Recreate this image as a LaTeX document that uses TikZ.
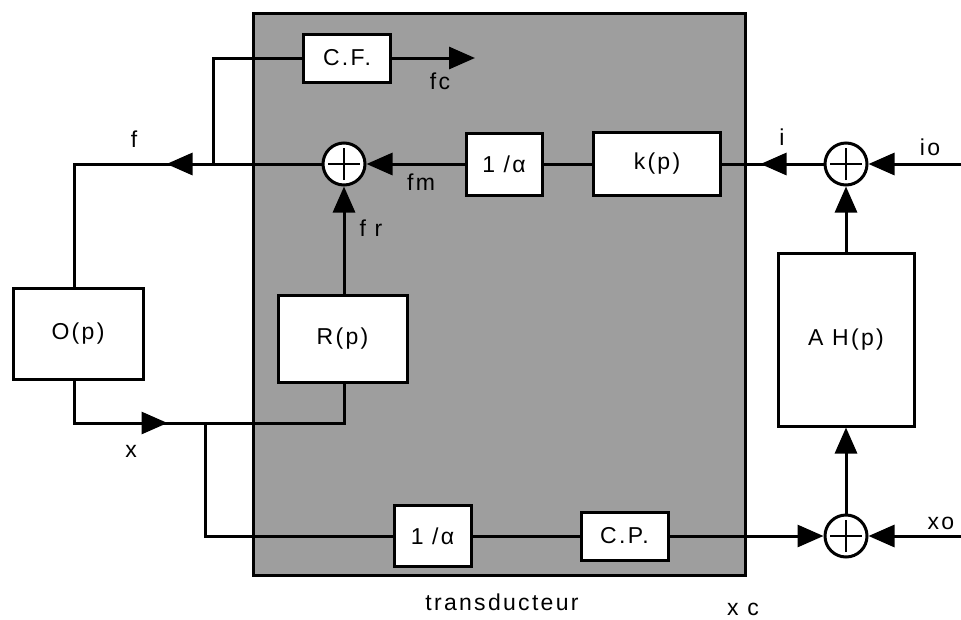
\documentclass[tikz,border=0pt]{standalone}
\usepackage{fontspec}
\setmainfont{Liberation Sans}[LetterSpace=10]
\usetikzlibrary{arrows.meta,decorations.markings}
\begin{document}
\begin{tikzpicture}[x=1pt,y=-1pt,line width=3pt,
  font=\fontsize{23}{27}\selectfont,
  blk/.style={draw,fill=white,inner sep=0pt},
  sumnode/.style={circle,draw,fill=white,minimum size=42pt,inner sep=0pt,
    path picture={
      \draw[line width=2.8pt] ([xshift=-16pt]path picture bounding box.center) -- ([xshift=16pt]path picture bounding box.center);
      \draw[line width=2.8pt] ([yshift=-16pt]path picture bounding box.center) -- ([yshift=16pt]path picture bounding box.center);}},
  tip/.style={-{Triangle[length=26pt,width=22pt]}},
  midtip/.style={postaction={decorate},decoration={markings,
    mark=at position #1 with {\arrow{Triangle[length=26pt,width=22pt]}}}},
  lbl/.style={inner sep=0pt}]
\useasboundingbox (0,0) rectangle (961,619);
% transducer housing
\node[draw,fill=black!38,minimum width=492pt,minimum height=562pt,inner sep=0pt] (T) at (499,294) {};
% blocks
\node[blk,minimum width=87pt,minimum height=48pt] (CF) at (347,58) {C.F.};
\node[sumnode] (s1) at (344,164) {};
\node[blk,minimum width=76pt,minimum height=62pt] (a1) at (504,164) {1 /α};
\node[blk,minimum width=127pt,minimum height=63pt] (k) at (657,164) {k(p)};
\node[sumnode] (s2) at (846,164) {};
\node[blk,minimum width=130pt,minimum height=91pt] (O) at (78,333.5) {O(p)};
\node[blk,minimum width=129pt,minimum height=87pt] (R) at (342.5,338.5) {R(p)};
\node[blk,minimum width=136pt,minimum height=173pt] (AH) at (846,339.5) {A H(p)};
\node[blk,minimum width=77pt,minimum height=61pt] (a2) at (432.5,536) {1 /α};
\node[blk,minimum width=87pt,minimum height=48pt] (CP) at (624.5,536) {C.P.};
\node[sumnode] (s3) at (846,536) {};
% coordinates
\coordinate (j1) at (213,164);
\coordinate (fcend) at (475,58);
\coordinate (fcorner) at (74,164);
\coordinate (xcorner) at (74,423);
\coordinate (xr) at (344,423);
\coordinate (j2) at (205,423);
\coordinate (ioin) at (961,164);
\coordinate (xoin) at (961,536);
% connectors
\draw (CF.west) -- (CF.west -| j1) -- (j1);
\draw[tip] (CF.east) -- (fcend);
\draw[midtip=155pt] (s1.west) -- (fcorner) -- (fcorner |- O.north);
\draw[tip] (a1.west) -- (s1.east);
\draw (k.west) -- (a1.east);
\draw[midtip=63pt] (s2.west) -- (k.east);
\draw[tip] (ioin) -- (s2.east);
\draw[tip] (AH.north) -- (s2.south);
\draw[tip] (s3.north) -- (AH.south);
\draw[tip] (xoin) -- (s3.east);
\draw[tip] (CP.east) -- (s3.west);
\draw (a2.east) -- (CP.west);
\draw (j2) -- (j2 |- a2.west) -- (a2.west);
\draw[midtip=136pt] (fcorner |- O.south) -- (xcorner) -- (xr) -- (xr |- R.south);
\draw[tip] (R.north -| s1) -- (s1.south);
% labels
\node[lbl] (lf) at (134,139) {f};
\node[lbl] (lfc) at (440,81) {fc};
\node[lbl] (lfm) at (421,182) {fm};
\node[lbl] (lfr) at (371,228) {f r};
\node[lbl] (li) at (782,137) {i};
\node[lbl] (lio) at (930,147) {io};
\node[lbl] (lx) at (131,451) {x};
\node[lbl] (lxo) at (941,523) {xo};
\node[lbl] (lxc) at (743,609) {x c};
\node[lbl] (ltr) at (502,602) {transducteur};
\end{tikzpicture}
\end{document}
